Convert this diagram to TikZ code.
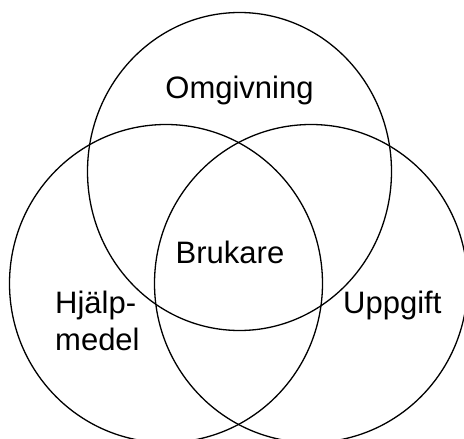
\documentclass[tikz,border=0pt]{standalone}
\usepackage{fontspec}
\setmainfont{Liberation Sans}
\begin{document}
\begin{tikzpicture}[x=1pt,y=-1pt,
  ring/.style={draw=black,line width=1.3pt},
  lbl/.style={font=\fontsize{31}{37}\selectfont,inner sep=0pt}]
\useasboundingbox (0,0) rectangle (464,439);
\clip (0,0) rectangle (464,439);
\draw[ring] (239.5,171.5) ellipse [x radius=152, y radius=159];
\draw[ring] (166,283.5) ellipse [x radius=156.5, y radius=159];
\draw[ring] (311,283.5) ellipse [x radius=156.5, y radius=159];
\node[lbl,anchor=base] (omg) at (239.5,98) {Omgivning};
\node[lbl,anchor=base] (bru) at (230,263) {Brukare};
\node[lbl,anchor=base west] (hja) at (55,313) {Hjälp-};
\node[lbl,anchor=base west] (med) at (55,350) {medel};
\node[lbl,anchor=base west] (upp) at (343,313) {Uppgift};
\end{tikzpicture}
\end{document}
